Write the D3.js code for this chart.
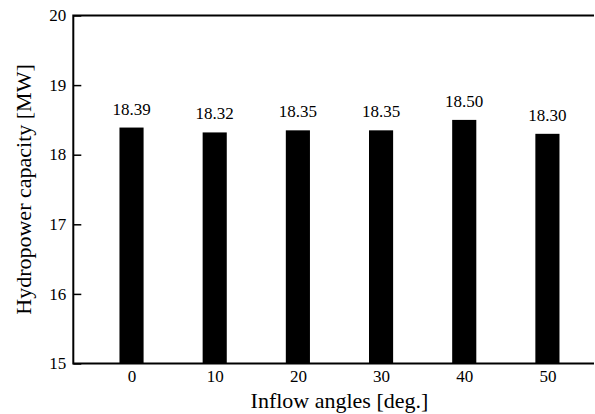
<!DOCTYPE html>
<html lang="en">
<head>
<meta charset="UTF-8">
<title>Hydropower capacity</title>
<script src="https://d3js.org/d3.v7.min.js"></script>
<style>
    body, html { margin: 0; padding: 0; background: #fff; }
</style>
</head>
<body>
<div id="chart"></div>
<script>
    // data
    const angles = [0, 10, 20, 30, 40, 50];
    const capacity = [18.39, 18.32, 18.35, 18.35, 18.50, 18.30];
    const yTicks = [15, 16, 17, 18, 19, 20];

    const width = 595, height = 414;
    const margin = { left: 73.3, top: 15.5, bottom: 363.5, right: 594 };
    const serif = "'Liberation Serif', 'Times New Roman', 'DejaVu Serif', serif";

    const svg = d3.select("#chart").append("svg")
        .attr("width", width)
        .attr("height", height)
        .attr("font-family", serif);

    const x = d3.scaleLinear().domain([-7, 55.6]).range([margin.left, margin.right]);
    const y = d3.scaleLinear().domain([15, 20]).range([margin.bottom, margin.top]);
    const barW = x(2.9) - x(0);

    // bars
    svg.append("g").selectAll("rect")
        .data(angles)
        .enter().append("rect")
        .attr("x", (d) => x(d) - barW / 2)
        .attr("y", (d, i) => y(capacity[i]))
        .attr("width", barW)
        .attr("height", (d, i) => y(15) - y(capacity[i]))
        .attr("fill", "#000");

    // value labels
    svg.append("g").selectAll("text")
        .data(angles)
        .enter().append("text")
        .attr("x", (d) => x(d))
        .attr("y", (d, i) => y(capacity[i]) - 13)
        .attr("text-anchor", "middle")
        .attr("font-family", serif)
        .attr("font-size", 17)
        .text((d, i) => capacity[i].toFixed(2));

    // y axis, ticks point inward
    const yAxis = svg.append("g")
        .attr("transform", `translate(${margin.left},0)`)
        .call(d3.axisRight(y).tickValues(yTicks).tickSize(8).tickFormat(""));
    yAxis.select(".domain").remove();
    yAxis.selectAll(".tick line").attr("stroke-width", 1.5);

    svg.append("g").selectAll("text")
        .data(yTicks)
        .enter().append("text")
        .attr("x", margin.left - 7)
        .attr("y", (d) => y(d))
        .attr("dy", "0.33em")
        .attr("text-anchor", "end")
        .attr("font-family", serif)
        .attr("font-size", 17)
        .text((d) => d);

    // x tick labels
    const xAxis = svg.append("g")
        .attr("transform", `translate(0,${margin.bottom})`)
        .call(d3.axisBottom(x).tickValues(angles).tickSize(0).tickPadding(6));
    xAxis.select(".domain").remove();
    xAxis.attr("font-family", serif).attr("font-size", 17);

    // frame lines: left, bottom, top
    svg.append("path")
        .attr("d", `M${margin.right},${margin.top}H${margin.left}V${margin.bottom}H${margin.right}`)
        .attr("fill", "none")
        .attr("stroke", "#000")
        .attr("stroke-width", 2);

    // axis titles
    svg.append("text")
        .attr("x", (x(angles[0]) + x(angles[angles.length - 1])) / 2)
        .attr("y", 408)
        .attr("text-anchor", "middle")
        .attr("font-family", serif)
        .attr("font-size", 22)
        .text("Inflow angles [deg.]");

    svg.append("text")
        .attr("transform", `translate(31,${(margin.top + margin.bottom) / 2}) rotate(-90)`)
        .attr("text-anchor", "middle")
        .attr("font-family", serif)
        .attr("font-size", 22)
        .text("Hydropower capacity [MW]");
</script>
</body>
</html>
